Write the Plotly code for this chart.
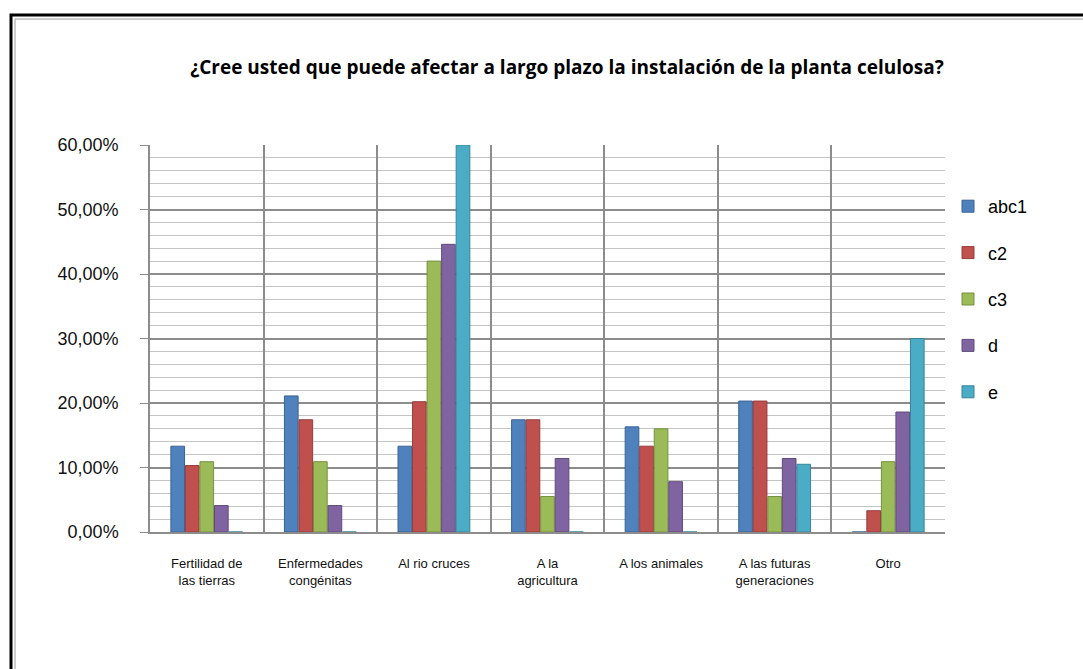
import plotly.graph_objects as go

# Survey answers per socio-economic segment
categories = [
    "Fertilidad de<br>las tierras",
    "Enfermedades<br>congénitas",
    "Al rio cruces",
    "A la<br>agricultura",
    "A los animales",
    "A las futuras<br>generaciones",
    "Otro",
]
abc1 = [0.133, 0.211, 0.133, 0.174, 0.163, 0.203, 0.0]
c2 = [0.103, 0.174, 0.202, 0.174, 0.133, 0.203, 0.033]
c3 = [0.109, 0.109, 0.420, 0.055, 0.160, 0.055, 0.109]
d = [0.041, 0.041, 0.446, 0.114, 0.078, 0.114, 0.186]
e = [0.0, 0.0, 0.600, 0.0, 0.0, 0.105, 0.300]

series = [
    ("abc1", abc1, "#4F81BD", "#3A6395"),
    ("c2", c2, "#C0504D", "#943C3A"),
    ("c3", c3, "#9BBB59", "#76913F"),
    ("d", d, "#8064A2", "#5F4A7A"),
    ("e", e, "#4BACC6", "#35859B"),
]

title_text = "¿Cree usted que puede afectar a largo plazo la instalación de la planta celulosa?"

fig = go.Figure()
for name, vals, col, edge in series:
    fig.add_trace(
        go.Bar(
            x=categories,
            y=vals,
            name=name,
            legendgroup=name,
            marker=dict(color=col, line=dict(color=edge, width=1)),
        )
    )

# plot area in pixels
L, R, T, B = 150, 945, 145, 532
W, H = 1083, 669


def px_x(x):
    return (x - L) / (R - L)


def px_y(y):
    return (B - y) / (B - T)


fig.update_layout(
    width=W,
    height=H,
    margin=dict(l=L, r=W - R, t=T, b=H - B, pad=0),
    paper_bgcolor="white",
    plot_bgcolor="white",
    separators=",.",
    barmode="group",
    bargap=0.36,
    bargroupgap=0.06,
    title=dict(
        text="<b>" + title_text + "</b>",
        x=px_x(567),
        xref="paper",
        xanchor="center",
        y=1 - 67 / H,
        yanchor="middle",
        font=dict(family="Open Sans, Liberation Sans, sans-serif", size=19, color="#000000"),
    ),
    font=dict(family="Liberation Sans, Arial, sans-serif", color="#000000"),
    legend=dict(
        x=px_x(948),
        xanchor="left",
        y=px_y(188),
        yanchor="top",
        font=dict(size=18, family="Liberation Sans, Arial, sans-serif"),
        traceorder="grouped",
        tracegroupgap=20,
        itemwidth=30,
        bgcolor="rgba(0,0,0,0)",
    ),
    showlegend=True,
)

fig.update_yaxes(
    range=[0, 0.6],
    dtick=0.1,
    tickformat=".2%",
    tickfont=dict(size=18, family="Liberation Sans, Arial, sans-serif", color="#111111"),
    showgrid=True,
    gridcolor="#8C8C8C",
    gridwidth=1.5,
    minor=dict(dtick=0.02, showgrid=True, gridcolor="#C4C4C4", gridwidth=1),
    ticks="outside",
    ticklen=8,
    tickcolor="#8C8C8C",
    showline=True,
    linecolor="#8C8C8C",
    linewidth=1.5,
    zeroline=False,
    ticklabelstandoff=18,
    fixedrange=True,
)

fig.update_xaxes(
    tickson="boundaries",
    showgrid=True,
    gridcolor="#8C8C8C",
    gridwidth=1.5,
    ticks="",
    showline=True,
    linecolor="#8C8C8C",
    linewidth=2,
    mirror=False,
    tickfont=dict(size=13, family="Liberation Sans Narrow, Liberation Sans, Arial, sans-serif", color="#111111"),
    ticklabelstandoff=18,
    tickangle=0,
    fixedrange=True,
)

# outer frame of the chart object (runs off the right and bottom edges)
fig.add_shape(
    type="rect",
    xref="paper",
    yref="paper",
    x0=px_x(11),
    x1=px_x(W + 20),
    y0=px_y(H + 20),
    y1=px_y(15),
    line=dict(color="#000000", width=3),
    fillcolor="rgba(0,0,0,0)",
    layer="above",
)
fig.add_shape(
    type="rect",
    xref="paper",
    yref="paper",
    x0=px_x(15),
    x1=px_x(W + 20),
    y0=px_y(H + 20),
    y1=px_y(19),
    line=dict(color="#9A9A9A", width=1),
    fillcolor="rgba(0,0,0,0)",
    layer="above",
)

fig.write_html("out.html")
